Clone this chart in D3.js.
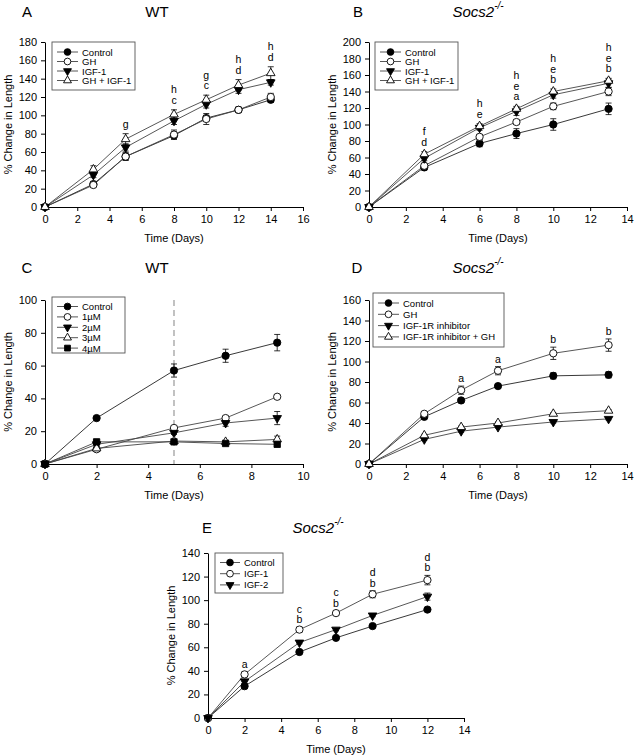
<!DOCTYPE html>
<html><head><meta charset="utf-8">
<script src="https://cdn.jsdelivr.net/npm/d3@7"></script>
<style>body{margin:0;background:#fff}svg{display:block;font-family:"Liberation Sans",Arial,sans-serif}</style>
</head><body>
<svg id="c" width="634" height="756"></svg>
<script>
// ---------- DATA ----------
const daysA = [0,3,5,8,10,12,14];
const ctrlA = [0,25,55,78,97,106,117];
const ghA = [0,24,55,79,96,106,120];
const igf1A = [0,35,65,94,112,128,136];
const ghIgf1A = [0,41,74,101,117,133,146];
const ctrlAErr = [0,2,4,4,3,2,3];
const ghAErr = [0,2,4,5,6,3,4];
const igf1AErr = [0,3,4,4,4,4,3];
const ghIgf1AErr = [0,4,6,5,5,6,7];
const lettersA = [[5,["g"]],[8,["h","c"]],[10,["g","c"]],[12,["h","d"]],[14,["h","d"]]];

const daysB = [0,3,6,8,10,13];
const ctrlB = [0,48,77,89,100,119];
const ghB = [0,50,85,103,122,140];
const igf1B = [0,59,96,116,136,150];
const ghIgf1B = [0,64,98,119,140,153];
const ctrlBErr = [0,3,4,6,7,7];
const ghBErr = [0,3,3,3,4,5];
const igf1BErr = [0,3,3,5,4,5];
const ghIgf1BErr = [0,3,3,3,3,3];
const lettersB = [[3,["f","d"]],[6,["h","e"]],[8,["h","e","a"]],[10,["h","e","b"]],[13,["h","e","b"]]];

const daysC = [0,2,5,7,9];
const ctrlC = [0,28,57,66,74];
const uM1C = [0,9,22,28,41];
const uM2C = [0,12,19,25,28];
const uM3C = [0,9.5,14,13.5,15];
const uM4C = [0,13.5,13.5,12.5,12];
const ctrlCErr = [0,1,4,4,5];
const uM1CErr = [0,1,1,1,1];
const uM2CErr = [0,1,1,2,4];
const uM3CErr = [0,1,1,1,2];
const uM4CErr = [0,1,1,1,1];

const daysD = [0,3,5,7,10,13];
const ctrlD = [0,46,62,76,86,87];
const ghD = [0,49,72,91,108,116];
const inhD = [0,24,32,36,41,44];
const inhGhD = [0,28,36,40,49,52];
const ctrlDErr = [0,2,2,2,3,3];
const ghDErr = [0,2,4,4,6,6];
const inhDErr = [0,1,1,1,1,1];
const inhGhDErr = [0,1,1,1,1,1];
const lettersD = [[5,["a"]],[7,["a"]],[10,["b"]],[13,["b"]]];

const daysE = [0,2,5,7,9,12];
const ctrlE = [0,27,56,68,78,92];
const igf1E = [0,37,75,89,105,117];
const igf2E = [0,31,64,75,87,103];
const ctrlEErr = [0,2,1,1,1,1];
const igf1EErr = [0,2,2,2,3,4];
const igf2EErr = [0,2,1,1,1,3];
const lettersE = [[2,["a"]],[5,["c","b"]],[7,["c","b"]],[9,["d","b"]],[12,["d","b"]]];

const legendA = ["Control","GH","IGF-1","GH + IGF-1"];
const legendC = ["Control","1µM","2µM","3µM","4µM"];
const legendD = ["Control","GH","IGF-1R inhibitor","IGF-1R inhibitor + GH"];
const legendE = ["Control","IGF-1","IGF-2"];

// ---------- DRAW ----------
const svg = d3.select("#c");
const FONT = "Liberation Sans, Arial, sans-serif";

function marker(g, type, x, y, k){
  k = k || 1;
  let sym, fill, rot = 0, size;
  if(type==="fc"){sym=d3.symbolCircle;fill="#000";size=42;}
  else if(type==="oc"){sym=d3.symbolCircle;fill="#fff";size=42;}
  else if(type==="dt"){sym=d3.symbolTriangle;fill="#000";rot=180;size=32;}
  else if(type==="ut"){sym=d3.symbolTriangle;fill="#fff";size=32;}
  else {sym=d3.symbolSquare;fill="#000";size=40;}
  g.append("path").attr("d", d3.symbol().type(sym).size(size*k)())
    .attr("transform", `translate(${x},${y}) rotate(${rot})`)
    .attr("fill", fill).attr("stroke","#000").attr("stroke-width",0.9);
}

function panel(cfg){
  const g = svg.append("g");
  const x = d3.scaleLinear().domain(cfg.xDomain).range([cfg.x0, cfg.x1]);
  const y = d3.scaleLinear().domain(cfg.yDomain).range([cfg.yBot, cfg.yTop]);
  const xa = g.append("g").attr("transform",`translate(0,${cfg.yBot})`)
    .call(d3.axisBottom(x).tickValues(d3.range(cfg.xDomain[0], cfg.xDomain[1]+0.1, 2)).tickSize(4).tickSizeOuter(0).tickPadding(4));
  const ya = g.append("g").attr("transform",`translate(${cfg.x0},0)`)
    .call(d3.axisLeft(y).tickValues(d3.range(cfg.yDomain[0], cfg.yDomain[1]+0.1, cfg.yStep)).tickSize(4).tickSizeOuter(0).tickPadding(4));
  [xa,ya].forEach(a=>{
    a.selectAll("text").attr("font-size",11).attr("font-family",FONT).attr("fill","#000");
    a.select(".domain").attr("stroke","#000");
    a.selectAll(".tick line").attr("stroke","#000");
  });
  g.append("text").attr("x",(cfg.x0+cfg.x1)/2).attr("y",cfg.yBot+35)
    .attr("text-anchor","middle").attr("font-size",11).text("Time (Days)");
  g.append("text").attr("transform",`translate(${cfg.x0-33},${(cfg.yTop+cfg.yBot)/2}) rotate(-90)`)
    .attr("text-anchor","middle").attr("font-size",11).text("% Change in Length");
  g.append("text").attr("x",cfg.letterX).attr("y",cfg.titleY).attr("text-anchor","middle")
    .attr("dominant-baseline","central").attr("font-size",15).text(cfg.letter);
  const t = g.append("text").attr("x",cfg.titleX).attr("y",cfg.titleY).attr("text-anchor","middle")
    .attr("dominant-baseline","central").attr("font-size",15);
  if(cfg.title==="WT"){ t.text("WT"); }
  else { t.append("tspan").attr("font-style","italic").text("Socs2");
         t.append("tspan").attr("font-style","italic").attr("font-size",10).attr("dy",-6).text("-/-"); }
  if(cfg.dashX!==undefined){
    g.append("line").attr("x1",x(cfg.dashX)).attr("x2",x(cfg.dashX)).attr("y1",cfg.yTop).attr("y2",cfg.yBot)
      .attr("stroke","#999").attr("stroke-width",1.2).attr("stroke-dasharray","6,4");
  }
  const line = d3.line().x(d=>x(d[0])).y(d=>y(d[1]));
  cfg.series.forEach(s=>{
    g.append("path").datum(cfg.days.map((d,i)=>[d,s.v[i]])).attr("d",line)
      .attr("fill","none").attr("stroke",s.c||"#444").attr("stroke-width",0.9);
  });
  cfg.series.forEach(s=>{
    cfg.days.forEach((d,i)=>{
      const e = s.e[i]; if(!e) return;
      const cx = x(d), yh = y(s.v[i]+e), yl = y(s.v[i]-e);
      g.append("line").attr("x1",cx).attr("x2",cx).attr("y1",yh).attr("y2",yl).attr("stroke","#000").attr("stroke-width",0.8);
      [yh,yl].forEach(yy=>g.append("line").attr("x1",cx-3).attr("x2",cx+3).attr("y1",yy).attr("y2",yy).attr("stroke","#000").attr("stroke-width",0.8));
    });
  });
  cfg.series.forEach(s=>{
    cfg.days.forEach((d,i)=>marker(g, s.m, x(d), y(s.v[i])));
  });
  (cfg.letters||[]).forEach(([day, labs])=>{
    const i = cfg.days.indexOf(day);
    const top = d3.max(cfg.series, s=>s.v[i]+s.e[i]);
    const base = y(top) - cfg.lgap;
    labs.slice().reverse().forEach((l,k)=>{
      g.append("text").attr("x",x(day)).attr("y",base - k*10.5).attr("text-anchor","middle")
        .attr("dominant-baseline","central").attr("font-size",10.5).text(l);
    });
  });
  const L = cfg.legend;
  g.append("rect").attr("x",L.x).attr("y",L.y).attr("width",L.w).attr("height",L.h)
    .attr("fill","#fff").attr("stroke","#555").attr("stroke-width",0.9);
  L.names.forEach((n,i)=>{
    const yy = L.y + L.first + i*L.step;
    g.append("line").attr("x1",L.x+5).attr("x2",L.x+5+L.len).attr("y1",yy).attr("y2",yy).attr("stroke","#444").attr("stroke-width",0.9);
    marker(g, cfg.series[i].m, L.x+5+L.len/2, yy, 0.85);
    g.append("text").attr("x",L.x+9+L.len).attr("y",yy).attr("dominant-baseline","central")
      .attr("font-size",9.5).text(n);
  });
}

svg.attr("font-family",FONT);

panel({x0:45,x1:303,yTop:42,yBot:207,xDomain:[0,16],yDomain:[0,180],yStep:20,
  letter:"A",letterX:27,title:"WT",titleX:157,titleY:11,days:daysA,lgap:10,letters:lettersA,
  series:[{v:ctrlA,e:ctrlAErr,m:"fc",c:"#222"},{v:ghA,e:ghAErr,m:"oc"},{v:igf1A,e:igf1AErr,m:"dt"},{v:ghIgf1A,e:ghIgf1AErr,m:"ut"}],
  legend:{x:52,y:42,w:83,h:48,first:10,step:9.5,len:21,names:legendA}});

panel({x0:369,x1:627,yTop:42,yBot:207,xDomain:[0,14],yDomain:[0,200],yStep:20,
  letter:"B",letterX:358,title:"S",titleX:478,titleY:11,days:daysB,lgap:10,letters:lettersB,
  series:[{v:ctrlB,e:ctrlBErr,m:"fc",c:"#222"},{v:ghB,e:ghBErr,m:"oc"},{v:igf1B,e:igf1BErr,m:"dt"},{v:ghIgf1B,e:ghIgf1BErr,m:"ut"}],
  legend:{x:375,y:42,w:83,h:48,first:10,step:9.5,len:21,names:legendA}});

panel({x0:45,x1:303,yTop:300,yBot:464,xDomain:[0,10],yDomain:[0,100],yStep:20,
  letter:"C",letterX:27,title:"WT",titleX:157,titleY:267,days:daysC,dashX:5,
  series:[{v:ctrlC,e:ctrlCErr,m:"fc",c:"#222"},{v:uM1C,e:uM1CErr,m:"oc"},{v:uM2C,e:uM2CErr,m:"dt"},{v:uM3C,e:uM3CErr,m:"ut"},{v:uM4C,e:uM4CErr,m:"sq"}],
  legend:{x:52,y:297,w:73,h:56,first:9.5,step:10.4,len:21,names:legendC}});

panel({x0:369,x1:627,yTop:300,yBot:464,xDomain:[0,14],yDomain:[0,160],yStep:20,
  letter:"D",letterX:357,title:"S",titleX:478,titleY:267,days:daysD,lgap:8,letters:lettersD,
  series:[{v:ctrlD,e:ctrlDErr,m:"fc",c:"#222"},{v:ghD,e:ghDErr,m:"oc"},{v:inhD,e:inhDErr,m:"dt"},{v:inhGhD,e:inhGhDErr,m:"ut"}],
  legend:{x:373,y:293,w:131,h:54,first:10,step:11.3,len:21,names:legendD}});

panel({x0:208,x1:464,yTop:553,yBot:718,xDomain:[0,14],yDomain:[0,140],yStep:20,
  letter:"E",letterX:207,title:"S",titleX:318,titleY:527,days:daysE,lgap:8,letters:lettersE,
  series:[{v:ctrlE,e:ctrlEErr,m:"fc",c:"#222"},{v:igf1E,e:igf1EErr,m:"oc"},{v:igf2E,e:igf2EErr,m:"dt"}],
  legend:{x:215,y:553,w:68,h:40,first:9.5,step:11.2,len:20,names:legendE}});
</script>
</body></html>
